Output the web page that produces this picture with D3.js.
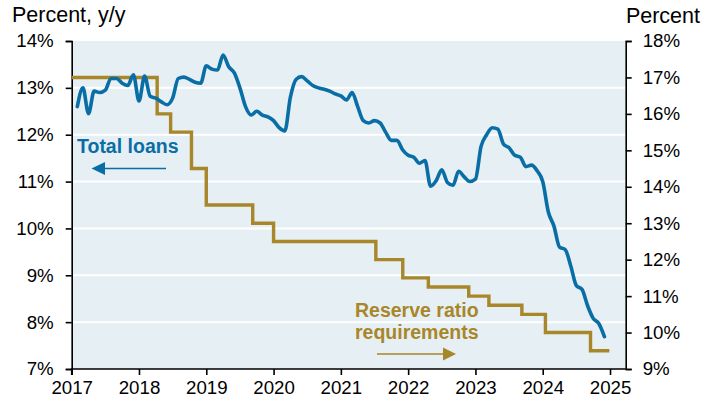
<!DOCTYPE html>
<html><head><meta charset="utf-8">
<script src="https://cdn.jsdelivr.net/npm/d3@7"></script>
<style>
html,body{margin:0;padding:0;background:#fff;}
svg{display:block;font-family:"Liberation Sans",Arial,sans-serif;}
</style></head>
<body>
<svg id="chart" width="720" height="405"></svg>
<script>
// ---- data ----
const loanStart = 2017; // Jan 2017, monthly, plotted at month end
const loanGrowth = [
 12.6,13.0,12.45,12.93,12.9,12.95,13.2,13.2,13.1,13.05,13.28,12.72,
 13.25,12.82,12.78,12.7,12.64,12.78,13.2,13.23,13.18,13.12,13.1,13.47,
 13.4,13.38,13.7,13.45,13.32,13.0,12.6,12.42,12.5,12.42,12.38,12.3,
 12.15,12.08,12.8,13.18,13.24,13.15,13.05,13.0,12.97,12.93,12.87,12.83,
 12.74,12.9,12.6,12.3,12.25,12.3,12.25,12.05,11.88,11.88,11.68,11.56,
 11.52,11.39,11.45,10.9,11.02,11.25,10.98,10.92,11.22,11.1,11.0,11.05,
 11.75,12.0,12.15,12.12,11.8,11.72,11.56,11.52,11.32,11.35,11.23,11.0,
 10.35,10.05,9.6,9.55,9.2,8.78,8.7,8.35,8.08,7.97,7.69
];
const rrrDates = [2017.0,2018.27,2018.47,2018.78,2019.0,2019.69,2020.0,2021.52,2021.92,2022.3,2022.9,2023.2,2023.69,2024.04,2024.71,2024.99];
const rrrValues = [17,16,15.5,14.5,13.5,13,12.5,12,11.5,11.25,11,10.75,10.5,10,9.5,9.5];
const yearTicks = [2017,2018,2019,2020,2021,2022,2023,2024,2025];
const leftTicks = [7,8,9,10,11,12,13,14];
const rightTicks = [9,10,11,12,13,14,15,16,17,18];
const leftTitle = "Percent, y/y";
const rightTitle = "Percent";
const loanLabel = "Total loans";
const rrrLabel = ["Reserve ratio","requirements"];

// ---- layout ----
const blue = "#0a6ea6", gold = "#a8862a", bg = "#e6eff3";
const L = 71.7, R = 625.7, T = 41, B = 369;
const svg = d3.select("#chart");
const x = d3.scaleLinear().domain([2017, 2025.233]).range([L, R]);
const yL = d3.scaleLinear().domain([7, 14]).range([B, T]);
const yR = d3.scaleLinear().domain([9, 18]).range([B, T]);

svg.append("rect").attr("x", L).attr("y", T).attr("width", R - L).attr("height", B - T).attr("fill", bg);
svg.append("g").selectAll("line").data(leftTicks.slice(1, -1)).join("line")
  .attr("x1", L).attr("x2", R).attr("y1", d => yL(d)).attr("y2", d => yL(d))
  .attr("stroke", "#fff").attr("stroke-width", 2);

const fs = "18.7px";
const gl = svg.append("g").attr("transform", `translate(${L},0)`)
  .call(d3.axisLeft(yL).tickValues(leftTicks).tickFormat(d => d + "%").tickSize(6).tickPadding(12));
const gr = svg.append("g").attr("transform", `translate(${R},0)`)
  .call(d3.axisRight(yR).tickValues(rightTicks).tickFormat(d => d + "%").tickSize(6).tickPadding(11));
const gx = svg.append("g").attr("transform", `translate(0,${B})`)
  .call(d3.axisBottom(x).tickValues(yearTicks).tickFormat(d3.format("d")).tickSize(6).tickPadding(6));
[gl, gr, gx].forEach(g => {
  g.select(".domain").attr("stroke", "#000").attr("stroke-width", 1.6);
  g.selectAll(".tick line").attr("stroke", "#000").attr("stroke-width", 1.6);
  g.selectAll("text").attr("fill", "#000").style("font-size", fs).style("font-family", '"Liberation Sans",Arial,sans-serif');
});
gx.select(".domain").attr("d", `M${L},6V0H${R}V0`);

svg.append("text").attr("x", 12).attr("y", 22).text(leftTitle).style("font-size", "21.5px");
svg.append("text").attr("x", 700).attr("y", 22.5).attr("text-anchor", "end").text(rightTitle).style("font-size", "21.5px");

// reserve step line
const rrr = rrrDates.map((d, i) => [d, rrrValues[i]]);
svg.append("path").datum(rrr)
  .attr("d", d3.line().x(d => x(d[0])).y(d => yR(d[1])).curve(d3.curveStepAfter))
  .attr("fill", "none").attr("stroke", gold).attr("stroke-width", 3.4);

// loans line
const loans = loanGrowth.map((v, i) => [loanStart + (i + 1) / 12, v]);
svg.append("path").datum(loans)
  .attr("d", d3.line().x(d => x(d[0])).y(d => yL(d[1])).curve(d3.curveMonotoneX))
  .attr("fill", "none").attr("stroke", blue).attr("stroke-width", 3.6)
  .attr("stroke-linejoin", "round").attr("stroke-linecap", "round");

// labels
svg.append("text").attr("x", 77).attr("y", 153).text(loanLabel)
  .attr("fill", blue).style("font-size", "19.5px").style("font-weight", "bold");
svg.append("line").attr("x1", 104).attr("x2", 166).attr("y1", 168.5).attr("y2", 168.5).attr("stroke", blue).attr("stroke-width", 1.6);
svg.append("path").attr("d", "M91.5,168.5L105,162L105,175Z").attr("fill", blue);

svg.selectAll(".rl").data(rrrLabel).join("text")
  .attr("x", 355).attr("y", (d, i) => 317 + i * 21.5).text(d => d)
  .attr("fill", gold).style("font-size", "19.5px").style("font-weight", "bold");
svg.append("line").attr("x1", 377).attr("x2", 444).attr("y1", 354).attr("y2", 354).attr("stroke", gold).attr("stroke-width", 1.6);
svg.append("path").attr("d", "M456,354L443,347.5L443,360.5Z").attr("fill", gold);
</script>
</body></html>
